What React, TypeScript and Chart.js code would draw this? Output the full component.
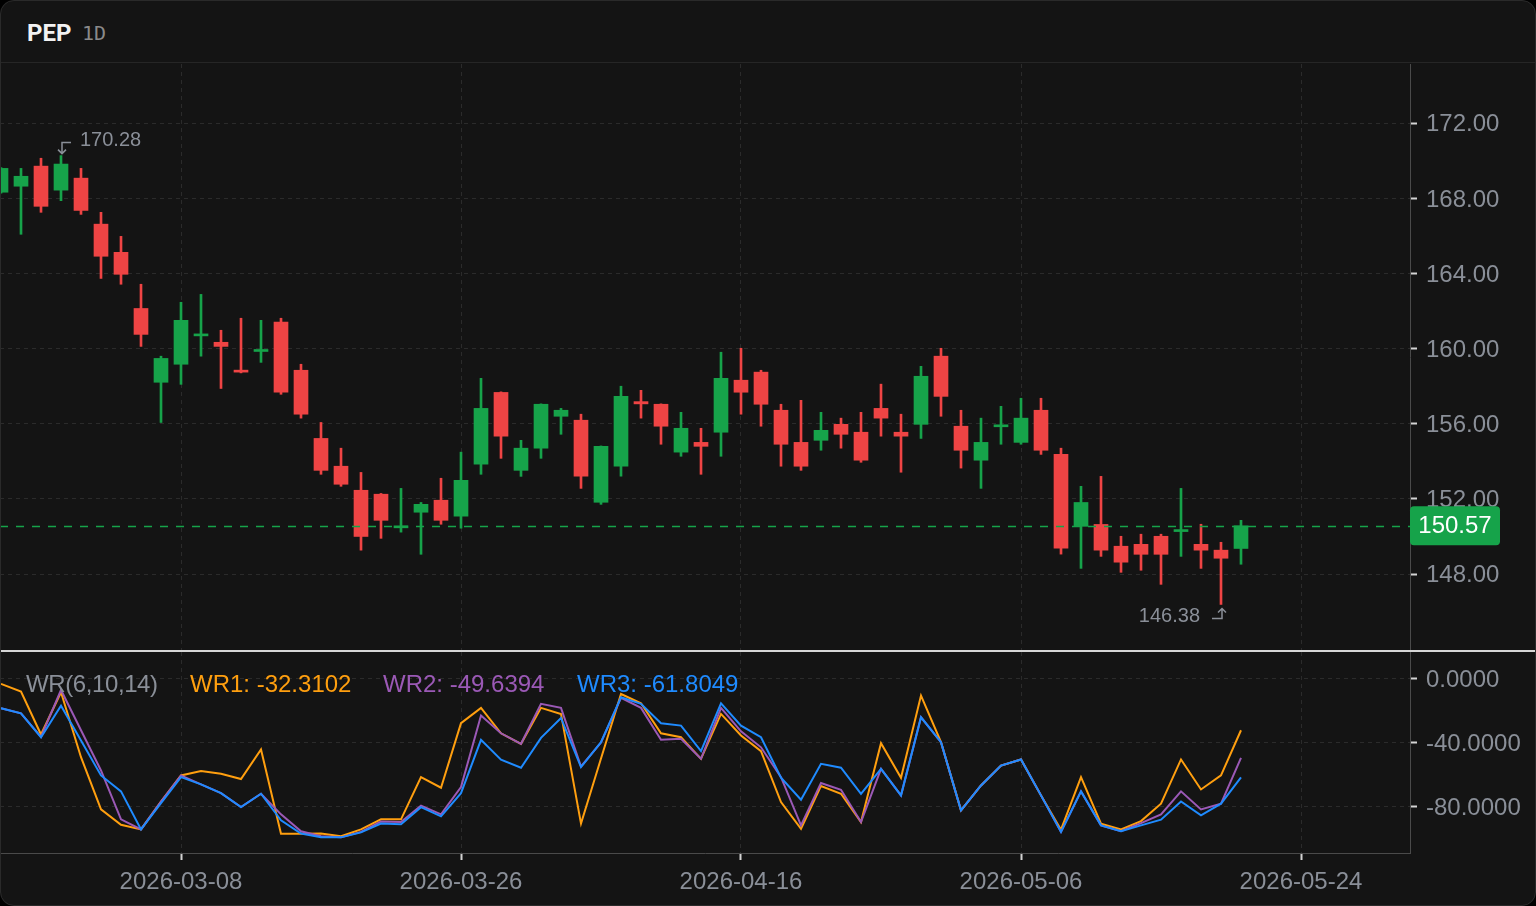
import React, { useEffect, useRef } from "react";
import { Chart, registerables } from "chart.js";

Chart.register(...registerables);

// ---------- data ----------
const X_TICK_INDEX = [9, 23, 37, 51, 65];
const X_TICK_LABELS = ["2026-03-08", "2026-03-26", "2026-04-16", "2026-05-06", "2026-05-24"];

const OPEN = [
  168.33, 168.65, 169.72, 168.44, 169.08, 166.63, 165.13, 162.14, 158.21, 159.17,
  160.68, 160.34, 158.85, 159.85, 161.41, 158.85, 155.22, 153.74, 152.46, 152.25,
  150.46, 151.29, 151.93, 151.08, 153.85, 157.67, 153.52, 154.70, 156.40, 156.19,
  151.82, 153.74, 157.18, 157.04, 154.49, 155.01, 155.55, 158.32, 158.75, 156.72,
  155.01, 155.12, 155.97, 155.55, 156.82, 155.55, 155.97, 159.60, 155.87, 154.06,
  155.84, 155.01, 156.72, 154.37, 150.54, 150.64, 149.48, 149.58, 150.01, 150.26,
  149.58, 149.27, 149.36,
];
const HIGH = [
  169.64, 169.60, 170.14, 170.28, 169.60, 167.26, 165.98, 163.43, 159.60, 162.47,
  162.89, 160.98, 161.62, 161.51, 161.62, 159.17, 156.07, 154.70, 153.41, 152.29,
  152.56, 151.81, 153.10, 154.49, 158.42, 157.70, 155.12, 157.06, 156.82, 156.51,
  154.82, 158.00, 157.78, 157.06, 156.61, 155.76, 159.81, 160.02, 158.85, 157.04,
  157.25, 156.61, 156.30, 156.61, 158.11, 156.51, 159.06, 160.02, 156.72, 156.30,
  156.93, 157.36, 157.36, 154.70, 152.67, 153.20, 150.01, 150.12, 150.12, 152.56,
  150.65, 149.69, 150.86,
];
const LOW = [
  168.28, 166.09, 167.26, 167.88, 167.15, 163.74, 163.43, 160.12, 156.07, 158.10,
  159.60, 157.88, 158.71, 159.27, 157.57, 156.30, 153.31, 152.67, 149.27, 149.90,
  150.23, 149.05, 150.65, 150.44, 153.31, 154.16, 153.20, 154.16, 155.44, 152.56,
  151.71, 153.21, 156.30, 154.91, 154.27, 153.31, 154.27, 156.51, 155.87, 153.74,
  153.52, 154.59, 154.70, 153.95, 155.34, 153.42, 155.22, 156.40, 153.64, 152.56,
  154.91, 154.91, 154.37, 149.06, 148.30, 148.94, 148.09, 148.20, 147.45, 148.94,
  148.30, 146.38, 148.52,
];
const CLOSE = [
  169.60, 169.18, 167.58, 169.83, 167.36, 164.92, 163.96, 160.76, 159.48, 161.51,
  160.74, 160.12, 158.75, 159.91, 157.68, 156.51, 153.52, 152.78, 150.00, 150.86,
  150.52, 151.71, 150.86, 152.99, 156.82, 155.34, 154.70, 157.04, 156.72, 153.21,
  154.80, 157.46, 157.06, 155.87, 155.76, 154.80, 158.42, 157.68, 157.04, 154.91,
  153.74, 155.65, 155.44, 154.06, 156.30, 155.34, 158.53, 157.46, 154.59, 155.01,
  155.90, 156.30, 154.59, 149.38, 151.81, 149.27, 148.63, 149.05, 149.05, 150.32,
  149.27, 148.84, 150.57,
];

const WR1 = [
  -3.3, -8.1, -35.0, -8.5, -49.2, -81.9, -91.5, -94.4, -77.0, -60.6,
  -57.9, -59.6, -62.9, -44.4, -97.1, -97.1, -97.0, -98.75, -94.4, -88.1,
  -88.1, -61.7, -68.3, -27.9, -18.3, -34.2, -40.8, -18.3, -22.1, -90.8,
  -50.0, -9.6, -15.4, -34.2, -36.7, -50.2, -22.1, -35.6, -45.4, -77.3,
  -94.0, -67.2, -72.1, -89.8, -40.4, -62.1, -10.6, -39.8, -82.5, -66.9,
  -54.4, -50.6, -73.1, -94.6, -61.7, -90.8, -94.4, -89.2, -78.3, -50.6,
  -69.4, -60.6, -32.3102,
];
const WR2 = [
  -18.5, -21.7, -36.5, -7.1, -32.3, -57.5, -88.1, -94.4, -77.0, -60.6,
  -66.2, -71.7, -80.4, -72.1, -85.0, -95.6, -98.75, -99.4, -96.0, -89.4,
  -89.8, -79.5, -85.0, -67.9, -23.1, -34.2, -40.8, -15.8, -18.3, -55.0,
  -40.0, -12.0, -18.3, -38.3, -37.7, -50.2, -18.3, -33.0, -43.0, -61.7,
  -91.9, -65.4, -69.6, -89.8, -56.5, -73.1, -24.2, -39.8, -82.5, -66.9,
  -54.4, -50.6, -73.1, -96.0, -70.6, -91.9, -95.6, -90.5, -85.0, -70.6,
  -81.9, -78.3, -49.6394,
];
const WR3 = [
  -18.5, -21.7, -36.7, -16.9, -38.8, -60.6, -70.6, -94.4, -77.9, -61.7,
  -66.25, -71.7, -80.4, -72.1, -88.75, -97.0, -99.4, -99.4, -96.3, -90.8,
  -91.25, -80.5, -86.25, -71.7, -38.3, -50.8, -55.8, -37.1, -24.6, -55.4,
  -39.8, -11.7, -15.8, -27.9, -29.4, -45.4, -15.4, -29.4, -36.7, -62.0,
  -75.8, -53.3, -55.8, -72.1, -56.5, -73.1, -24.2, -39.8, -82.5, -66.9,
  -54.4, -50.6, -73.1, -96.0, -70.6, -91.9, -95.6, -91.9, -88.3, -76.9,
  -85.6, -78.3, -61.8049,
];

const PRICE_TICKS = [148, 152, 156, 160, 164, 168, 172];
const WR_TICKS = [0, -40, -80];

// ---------- style / layout ----------
const W = 1536;
const PLOT_RIGHT = 1410;
const AXIS_W = W - PLOT_RIGHT;
const TOP_Y = 64;
const TOP_H = 586;
const BOT_Y = 652;
const BOT_H = 254;
const X_AXIS_H = 53;
const X_MIN = -0.05;
const X_MAX = 70.45;
const PRICE_MIN = 143.954;
const PRICE_MAX = 175.158;
const WR_MIN = -109.2;
const WR_MAX = 16.7;

const BG = "#141414";
const GRID = "#2b2b2b";
const AXIS_LINE = "#4a4a4a";
const TICK_MARK = "#d4d4d4";
const LABEL = "#8a8f98";
const UP = "#16a34a";
const DOWN = "#ef4444";
const C_WR1 = "#ff9f0f";
const C_WR2 = "#9b59b6";
const C_WR3 = "#1f8bff";
const FONT = "'Liberation Sans', Arial, Helvetica, sans-serif";

const fixY = (s: any) => {
  s.width = AXIS_W;
  s.paddingTop = 0;
  s.paddingBottom = 0;
};
const fixXTop = (s: any) => {
  s.height = 0;
  s.paddingLeft = 0;
  s.paddingRight = 0;
};
const fixXBot = (s: any) => {
  s.height = X_AXIS_H;
  s.paddingLeft = 0;
  s.paddingRight = 0;
};
const xTicks = (s: any) => {
  s.ticks = X_TICK_INDEX.map((v) => ({ value: v }));
};

const priceOverlay = {
  id: "priceOverlay",
  afterDatasetsDraw(chart: any) {
    const { ctx, chartArea, scales } = chart;
    const last = CLOSE[CLOSE.length - 1];
    const y = Math.round(scales.y.getPixelForValue(last)) + 0.5;
    ctx.save();
    ctx.strokeStyle = UP;
    ctx.lineWidth = 1.5;
    ctx.setLineDash([8, 8]);
    ctx.beginPath();
    ctx.moveTo(chartArea.left, y);
    ctx.lineTo(chartArea.right, y);
    ctx.stroke();
    ctx.restore();

    // high / low annotations
    let hi = 0;
    let lo = 0;
    for (let i = 0; i < HIGH.length; i++) {
      if (HIGH[i] > HIGH[hi]) hi = i;
      if (LOW[i] < LOW[lo]) lo = i;
    }
    ctx.save();
    ctx.strokeStyle = LABEL;
    ctx.fillStyle = LABEL;
    ctx.lineWidth = 1.5;
    ctx.font = `20px ${FONT}`;
    ctx.textBaseline = "middle";
    const hx = scales.x.getPixelForValue(hi) + 1;
    const hy = scales.y.getPixelForValue(HIGH[hi]);
    ctx.beginPath();
    ctx.moveTo(hx + 9, hy - 13);
    ctx.lineTo(hx, hy - 13);
    ctx.lineTo(hx, hy - 2);
    ctx.moveTo(hx - 4, hy - 6);
    ctx.lineTo(hx, hy - 2);
    ctx.lineTo(hx + 4, hy - 6);
    ctx.stroke();
    ctx.textAlign = "left";
    ctx.fillText(HIGH[hi].toFixed(2), hx + 18, hy - 15);

    const lx = scales.x.getPixelForValue(lo) + 1;
    const ly = scales.y.getPixelForValue(LOW[lo]);
    ctx.beginPath();
    ctx.moveTo(lx - 10, ly + 14);
    ctx.lineTo(lx, ly + 14);
    ctx.lineTo(lx, ly + 4);
    ctx.moveTo(lx - 4, ly + 8);
    ctx.lineTo(lx, ly + 4);
    ctx.lineTo(lx + 4, ly + 8);
    ctx.stroke();
    ctx.textAlign = "right";
    ctx.fillText(LOW[lo].toFixed(2), lx - 22, ly + 12);
    ctx.restore();
  },
  afterDraw(chart: any) {
    const { ctx, chartArea, scales } = chart;
    const last = CLOSE[CLOSE.length - 1];
    const y = scales.y.getPixelForValue(last);
    const x0 = chartArea.right;
    const w = 90;
    const h = 39;
    ctx.save();
    ctx.fillStyle = UP;
    ctx.beginPath();
    (ctx as any).roundRect(x0, y - h / 2, w, h, 4);
    ctx.fill();
    ctx.fillStyle = "#ffffff";
    ctx.font = `24px ${FONT}`;
    ctx.textAlign = "center";
    ctx.textBaseline = "middle";
    ctx.fillText(last.toFixed(2), x0 + w / 2, y + 1);
    ctx.restore();
  },
};

export default function App() {
  const topRef = useRef<HTMLCanvasElement>(null);
  const botRef = useRef<HTMLCanvasElement>(null);

  useEffect(() => {
    const colors = OPEN.map((o, i) => (CLOSE[i] >= o ? UP : DOWN));
    const top = new Chart(topRef.current as HTMLCanvasElement, {
      type: "bar",
      data: {
        datasets: [
          {
            data: OPEN.map((o, i) => ({ x: i, y: [o, CLOSE[i]] })) as any,
            backgroundColor: colors,
            borderWidth: 0,
            barThickness: 14,
            minBarLength: 2,
            grouped: false,
          } as any,
          {
            data: LOW.map((l, i) => ({ x: i, y: [l, HIGH[i]] })) as any,
            backgroundColor: colors,
            borderWidth: 0,
            barThickness: 2,
            grouped: false,
          } as any,
        ],
      },
      options: {
        responsive: false,
        animation: false,
        events: [],
        layout: { padding: 0 },
        plugins: { legend: { display: false }, tooltip: { enabled: false } },
        scales: {
          x: {
            type: "linear",
            min: X_MIN,
            max: X_MAX,
            offset: false,
            afterBuildTicks: xTicks,
            afterFit: fixXTop,
            ticks: { display: false },
            grid: { color: GRID, drawTicks: false, offset: false },
            border: { display: false, dash: [4, 4] },
          },
          y: {
            position: "right",
            min: PRICE_MIN,
            max: PRICE_MAX,
            afterBuildTicks: (s: any) => {
              s.ticks = PRICE_TICKS.map((v) => ({ value: v }));
            },
            afterFit: fixY,
            ticks: {
              color: LABEL,
              font: { family: FONT, size: 24 },
              padding: 9,
              labelOffset: 1.5,
              callback: (v: any) => Number(v).toFixed(2),
            },
            grid: { color: GRID, tickLength: 7, tickColor: TICK_MARK, tickWidth: 2 },
            border: { display: true, color: AXIS_LINE, width: 1, dash: [4, 4] },
          },
        },
      } as any,
      plugins: [priceOverlay],
    });

    const line = (d: number[], color: string, order: number) => ({
      data: d.map((v, i) => ({ x: i, y: v })),
      borderColor: color,
      backgroundColor: color,
      borderWidth: 2,
      pointRadius: 0,
      tension: 0,
      order,
    });

    const bot = new Chart(botRef.current as HTMLCanvasElement, {
      type: "line",
      data: {
        datasets: [line(WR1, C_WR1, 3), line(WR2, C_WR2, 2), line(WR3, C_WR3, 1)] as any,
      },
      options: {
        responsive: false,
        animation: false,
        events: [],
        layout: { padding: 0 },
        plugins: { legend: { display: false }, tooltip: { enabled: false } },
        scales: {
          x: {
            type: "linear",
            min: X_MIN,
            max: X_MAX,
            offset: false,
            afterBuildTicks: xTicks,
            afterFit: fixXBot,
            ticks: {
              color: LABEL,
              font: { family: FONT, size: 24 },
              padding: 8,
              maxRotation: 0,
              autoSkip: false,
              callback: (v: any) => {
                const k = X_TICK_INDEX.indexOf(Number(v));
                return k >= 0 ? X_TICK_LABELS[k] : "";
              },
            },
            grid: { color: GRID, tickLength: 7, tickColor: TICK_MARK, tickWidth: 2, offset: false },
            border: { display: true, color: AXIS_LINE, width: 1, dash: [4, 4] },
          },
          y: {
            position: "right",
            min: WR_MIN,
            max: WR_MAX,
            afterBuildTicks: (s: any) => {
              s.ticks = WR_TICKS.map((v) => ({ value: v }));
            },
            afterFit: fixY,
            ticks: {
              color: LABEL,
              font: { family: FONT, size: 24 },
              padding: 9,
              labelOffset: 1.5,
              callback: (v: any) => Number(v).toFixed(4),
            },
            grid: { color: GRID, tickLength: 7, tickColor: TICK_MARK, tickWidth: 2 },
            border: { display: true, color: AXIS_LINE, width: 1, dash: [4, 4] },
          },
        },
      } as any,
    });

    return () => {
      top.destroy();
      bot.destroy();
    };
  }, []);

  const legendBase: React.CSSProperties = {
    position: "absolute",
    top: 672,
    fontFamily: FONT,
    fontSize: 24,
    lineHeight: "24px",
    whiteSpace: "nowrap",
  };

  return (
    <div style={{ width: W, height: 906, background: "#000", position: "relative", overflow: "hidden" }}>
      <style>{`body{margin:0;background:#000;}`}</style>
      <div
        style={{
          position: "absolute",
          left: 0,
          top: 0,
          width: W,
          height: 906,
          background: BG,
          borderRadius: 14,
          overflow: "hidden",
        }}
      >
        <div
          style={{
            position: "absolute",
            left: 0,
            top: 0,
            width: W,
            height: 63,
            borderBottom: "1px solid #262626",
            boxSizing: "border-box",
          }}
        >
          <span
            style={{
              position: "absolute",
              left: 27,
              top: 21,
              fontFamily: "Roboto, 'Liberation Sans', sans-serif",
              fontWeight: 700,
              fontSize: 24,
              lineHeight: "24px",
              color: "#f2f2f2",
            }}
          >
            PEP
          </span>
          <span
            style={{
              position: "absolute",
              left: 82,
              top: 23,
              fontFamily: "'DejaVu Sans Mono', monospace",
              fontSize: 20,
              lineHeight: "20px",
              color: "#8a8a8a",
            }}
          >
            1D
          </span>
        </div>
        <canvas
          ref={topRef}
          width={W}
          height={TOP_H}
          style={{ position: "absolute", left: 0, top: TOP_Y, width: W, height: TOP_H }}
        />
        <div style={{ position: "absolute", left: 0, top: 650, width: W, height: 2, background: "#d6d6d6" }} />
        <canvas
          ref={botRef}
          width={W}
          height={BOT_H}
          style={{ position: "absolute", left: 0, top: BOT_Y, width: W, height: BOT_H }}
        />
        <span style={{ ...legendBase, left: 26, color: LABEL, letterSpacing: -0.4 }}>WR(6,10,14)</span>
        <span style={{ ...legendBase, left: 190, color: C_WR1 }}>WR1: {WR1[WR1.length - 1].toFixed(4)}</span>
        <span style={{ ...legendBase, left: 383, color: C_WR2 }}>WR2: {WR2[WR2.length - 1].toFixed(4)}</span>
        <span style={{ ...legendBase, left: 577, color: C_WR3 }}>WR3: {WR3[WR3.length - 1].toFixed(4)}</span>
        <div
          style={{
            position: "absolute",
            left: 0,
            top: 0,
            width: W,
            height: 906,
            borderRadius: 14,
            border: "1px solid #2a2a2a",
            boxSizing: "border-box",
            pointerEvents: "none",
          }}
        />
      </div>
    </div>
  );
}
